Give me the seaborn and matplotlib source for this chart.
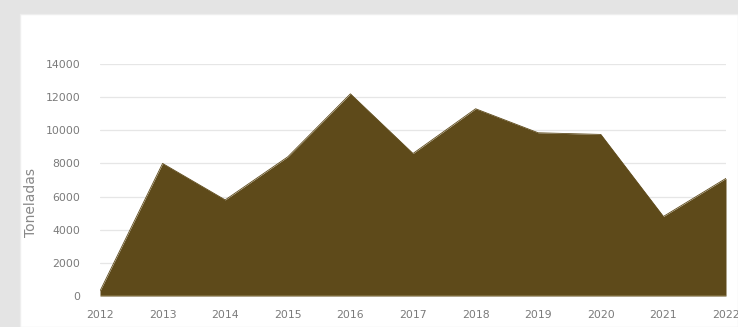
import pandas as pd
import seaborn as sns
import matplotlib.pyplot as plt
from matplotlib.patches import Rectangle

# Data
years = [2012, 2013, 2014, 2015, 2016, 2017, 2018, 2019, 2020, 2021, 2022]
toneladas = [300, 8000, 5800, 8400, 12200, 8600, 11300, 9850, 9750, 4800, 7100]
y_ticks = [0, 2000, 4000, 6000, 8000, 10000, 12000, 14000]

df = pd.DataFrame({'year': years, 'toneladas': toneladas})

sns.set_theme(style='whitegrid')
plt.rcParams['font.family'] = ['DejaVu Sans']

fig = plt.figure(figsize=(7.38, 3.27), dpi=100)
fig.patch.set_facecolor('#e4e4e4')
# white chart panel, drawn behind the axes
fig.patches.append(Rectangle((20 / 738, 0), 1 - 20 / 738, 1 - 14 / 327,
                             transform=fig.transFigure, facecolor='white',
                             edgecolor='#eeeeee', linewidth=1, zorder=-10))

ax = fig.add_axes([100 / 738, 31 / 327, 626 / 738, 232 / 327])
ax.set_facecolor('none')

color = '#5e4a1a'
sns.lineplot(data=df, x='year', y='toneladas', color=color, linewidth=0.6, ax=ax)
ax.fill_between(df['year'], df['toneladas'], color=color, linewidth=0, zorder=2)

ax.set_xlim(2012, 2022)
ax.set_ylim(0, 14000)
ax.set_xticks(years)
ax.set_yticks(y_ticks)
ax.set_xticklabels([str(y) for y in years], fontsize=7.8, color='#7a7a7a')
ax.set_yticklabels([str(v) for v in y_ticks], fontsize=7.8, color='#7a7a7a')
ax.tick_params(axis='x', length=0, pad=10)
ax.tick_params(axis='y', length=0, pad=14)
ax.grid(axis='x', visible=False)
ax.grid(axis='y', color='#e6e6e6', linewidth=0.9)
for s in ax.spines.values():
    s.set_visible(False)
ax.axhline(0, color='#f2e6b8', linewidth=1, zorder=3)

ax.set_xlabel('')
ax.set_ylabel('Toneladas', fontsize=10, color='#888888')
ax.yaxis.set_label_coords(-0.099, 0.405)

fig.savefig('out.png', dpi=100, facecolor=fig.get_facecolor())
